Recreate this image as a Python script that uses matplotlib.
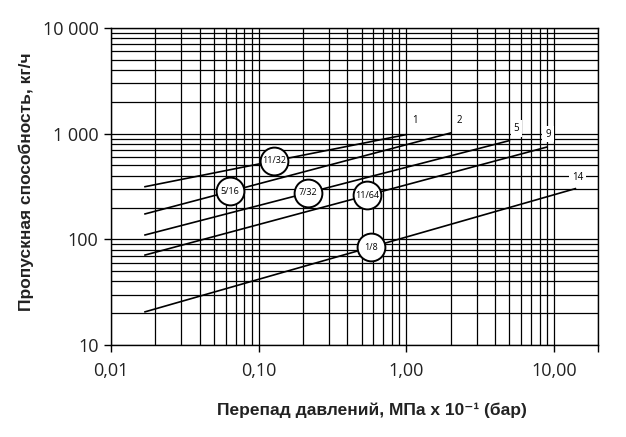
import numpy as np
import matplotlib.pyplot as plt
from matplotlib.ticker import FixedLocator, NullFormatter, LogLocator

# pressure drop (bar) and flow (kg/h) at line ends
dp_start = [0.017, 0.017, 0.017, 0.017, 0.017]
dp_end = [1.0, 2.0, 5.0, 9.0, 14.0]
flow_start = [315, 174, 110, 71, 20.6]
flow_end = [980, 1016, 860, 748, 302]
end_labels = ['1', '2', '5', '9', '14']

# orifice markers (circle labels) along each line
orifice = ['11/32', '5/16', '7/32', '11/64', '1/8']
orifice_dp = [0.1276, 0.0642, 0.2147, 0.543, 0.581]

x_ticks = [0.01, 0.1, 1, 10]
x_ticklabels = ['0,01', '0,10', '1,00', '10,00']
y_ticks = [10, 100, 1000, 10000]
y_ticklabels = ['10', '100', '1 000', '10 000']

# label offsets (pixels) from the line end
label_dx = [9, 9, 7, 1, 2]
label_dy = [14, 12, 12, 13, 11]

plt.rcParams['font.family'] = ['Open Sans', 'DejaVu Sans']

fig = plt.figure(figsize=(6.26, 4.37), dpi=100)
ax = fig.add_axes([0.1773, 0.2105, 0.7784, 0.7254])
ax.set_xscale('log')
ax.set_yscale('log')
ax.set_xlim(0.01, 20)
ax.set_ylim(10, 10000)

ax.xaxis.set_major_locator(FixedLocator(x_ticks + [20]))
ax.set_xticklabels(x_ticklabels + [''])
ax.yaxis.set_major_locator(FixedLocator(y_ticks))
ax.set_yticklabels(y_ticklabels)
ax.xaxis.set_minor_locator(LogLocator(base=10, subs=np.arange(2, 10)))
ax.yaxis.set_minor_locator(LogLocator(base=10, subs=np.arange(2, 10)))
ax.xaxis.set_minor_formatter(NullFormatter())
ax.yaxis.set_minor_formatter(NullFormatter())
ax.tick_params(which='major', direction='out', length=5, width=1, color='black',
               labelsize=13, pad=4, labelcolor='#222222')
ax.tick_params(axis='x', which='major', pad=7)
ax.tick_params(which='minor', length=0)
ax.grid(True, which='both', color='black', linewidth=0.9)
ax.set_axisbelow(True)
for s in ax.spines.values():
    s.set_color('black')
    s.set_linewidth(1)

for i in range(len(end_labels)):
    ax.plot([dp_start[i], dp_end[i]], [flow_start[i], flow_end[i]],
            color='black', linewidth=1.2, zorder=3)
    ax.annotate(end_labels[i], (dp_end[i], flow_end[i]),
                xytext=(label_dx[i], label_dy[i]), textcoords='offset pixels',
                ha='center', va='center', fontsize=7,
                bbox=dict(boxstyle='square,pad=0.3', fc='white', ec='none'), zorder=4)

    # circle position on the line (log-log interpolation)
    t = np.log10(orifice_dp[i] / dp_start[i]) / np.log10(dp_end[i] / dp_start[i])
    fy = 10 ** (np.log10(flow_start[i]) + t * np.log10(flow_end[i] / flow_start[i]))
    ax.plot(orifice_dp[i], fy, 'o', markersize=20, markerfacecolor='white',
            markeredgecolor='black', markeredgewidth=1.4, zorder=5)
    ax.text(orifice_dp[i], fy, orifice[i], ha='center', va='center',
            fontsize=6.5, zorder=6)

lbl_font = ['Liberation Sans', 'DejaVu Sans']
fig.text(26.5 / 626, 1 - 182 / 437, 'Пропускная способность, кг/ч', rotation=90,
         ha='center', va='center', fontsize=12.5, fontweight='bold',
         family=lbl_font, color='#222222')
fig.text(372 / 626, 1 - 415.5 / 437, 'Перепад давлений, МПа x 10⁻¹ (бар)',
         ha='center', va='baseline', fontsize=12.5, fontweight='bold',
         family=lbl_font, color='#222222')

plt.savefig('out.png', dpi=100)
plt.close()
